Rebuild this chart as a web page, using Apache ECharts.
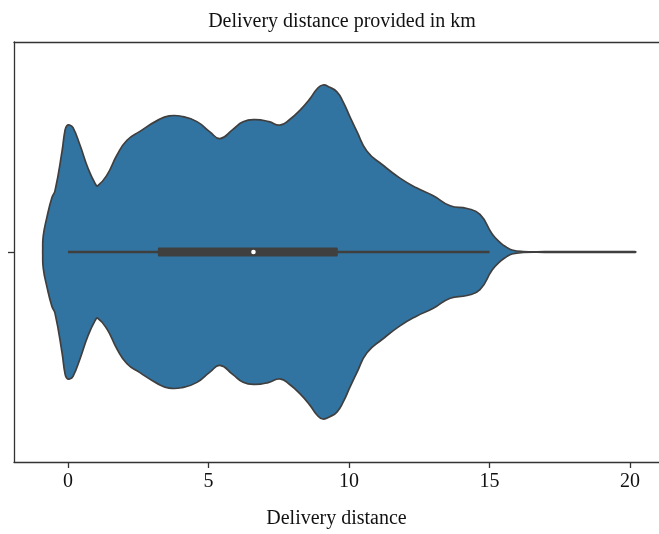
<!DOCTYPE html>
<html><head><meta charset="utf-8">
<script src="https://cdn.jsdelivr.net/npm/echarts@6/dist/echarts.min.js"></script>
<style>html,body{margin:0;padding:0;background:#fff}#c{width:659px;height:534px}</style>
</head><body><div id="c"></div>
<script>
// Violin outline: delivery distance (km) and relative half-width (density, peak = 1)
const distanceKm = [-0.90, -0.88, -0.75, -0.57, -0.46, -0.21, -0.11, -0.04, 0.06, 0.18, 0.43, 0.71, 0.96, 1.06, 1.39, 1.74, 2.10, 2.56, 3.17, 3.60, 4.09, 4.59, 5.05, 5.41, 5.87, 6.23, 6.65, 7.15, 7.54, 7.90, 8.26, 8.60, 8.86, 9.07, 9.32, 9.57, 9.79, 10.03, 10.28, 10.64, 11.20, 11.80, 12.40, 13.00, 13.60, 14.20, 14.66, 15.10, 15.40, 15.60, 15.80, 16.20, 17.00, 18.00, 19.00, 19.80, 20.05, 20.15, 20.20];
const density    = [0.000, 0.094, 0.206, 0.324, 0.365, 0.600, 0.720, 0.752, 0.756, 0.740, 0.635, 0.500, 0.410, 0.394, 0.459, 0.576, 0.665, 0.718, 0.782, 0.810, 0.806, 0.776, 0.715, 0.675, 0.730, 0.775, 0.788, 0.776, 0.755, 0.790, 0.845, 0.910, 0.970, 0.994, 0.980, 0.953, 0.894, 0.806, 0.718, 0.600, 0.518, 0.441, 0.382, 0.335, 0.275, 0.259, 0.224, 0.106, 0.053, 0.029, 0.012, 0.003, 0.002, 0.002, 0.002, 0.002, 0.002, 0.002, 0.001];
// Box summary
const quartiles = [3.2, 6.6, 9.6];   // Q1, median, Q3
const whiskers = [0.0, 15.0];
const xTicks = [0, 5, 10, 15, 20];
const titleText = 'Delivery distance provided in km';
const xName = 'Delivery distance';

const FONT = "'Liberation Serif', 'DejaVu Serif', serif";
const XMIN = -1.92, XMAX = 21.03, YMAX = 1.25;
const chart = echarts.init(document.getElementById('c'), null, {renderer: 'canvas'});
chart.setOption({
  animation: false,
  backgroundColor: '#fff',
  title: {text: titleText, left: 337, top: 7, textAlign: 'center',
    textStyle: {fontFamily: FONT, fontWeight: 'normal', fontSize: 20, color: '#111'}},
  grid: {left: 14, right: 0, top: 42, bottom: 67},
  xAxis: [{
    type: 'value', min: XMIN, max: XMAX, position: 'bottom',
    axisLine: {show: true, onZero: false, lineStyle: {color: '#333', width: 1.3}},
    axisTick: {show: true, customValues: xTicks, length: 6, lineStyle: {color: '#333', width: 1.3}},
    axisLabel: {customValues: xTicks, fontFamily: FONT, fontSize: 20, color: '#111', margin: 10},
    splitLine: {show: false},
    name: xName, nameLocation: 'middle', nameGap: 47,
    nameTextStyle: {fontFamily: FONT, fontSize: 20, color: '#111'}
  }, {
    type: 'value', min: XMIN, max: XMAX, position: 'top',
    axisLine: {show: true, onZero: false, lineStyle: {color: '#333', width: 1.3}},
    axisTick: {show: false}, axisLabel: {show: false}, splitLine: {show: false}
  }],
  yAxis: {
    type: 'value', min: -YMAX, max: YMAX,
    axisLine: {show: true, onZero: false, lineStyle: {color: '#333', width: 1.3}},
    axisTick: {show: true, customValues: [0], length: 6, lineStyle: {color: '#333', width: 1.3}},
    axisLabel: {show: false},
    splitLine: {show: false}
  },
  series: [{
    type: 'custom',
    data: [[0, 0]],
    encode: {x: 0, y: 1},
    renderItem: function (params, api) {
      const upper = distanceKm.map((x, i) => api.coord([x, density[i]]));
      const lower = distanceKm.map((x, i) => api.coord([x, -density[i]])).reverse();
      return {type: 'polygon', shape: {points: upper.concat(lower), smooth: 0.5},
        style: {fill: '#3274a1', stroke: '#3f3f3f', lineWidth: 1.7}};
    }
  }, {
    type: 'custom',
    data: [[quartiles[1], 0]],
    encode: {x: 0, y: 1},
    renderItem: function (params, api) {
      const w0 = api.coord([whiskers[0], 0]);
      const w1 = api.coord([whiskers[1], 0]);
      const q1 = api.coord([quartiles[0], 0]);
      const q3 = api.coord([quartiles[2], 0]);
      const med = api.coord([quartiles[1], 0]);
      return {type: 'group', children: [
        {type: 'line', shape: {x1: w0[0], y1: w0[1], x2: w1[0], y2: w1[1]},
          style: {stroke: '#3f3f3f', lineWidth: 2.6}},
        {type: 'rect', shape: {x: q1[0], y: q1[1] - 4.5, width: q3[0] - q1[0], height: 9, r: 1},
          style: {fill: '#3f3f3f'}},
        {type: 'circle', shape: {cx: med[0], cy: med[1], r: 2.3}, style: {fill: '#fff'}}
      ]};
    }
  }]
});
</script></body></html>
